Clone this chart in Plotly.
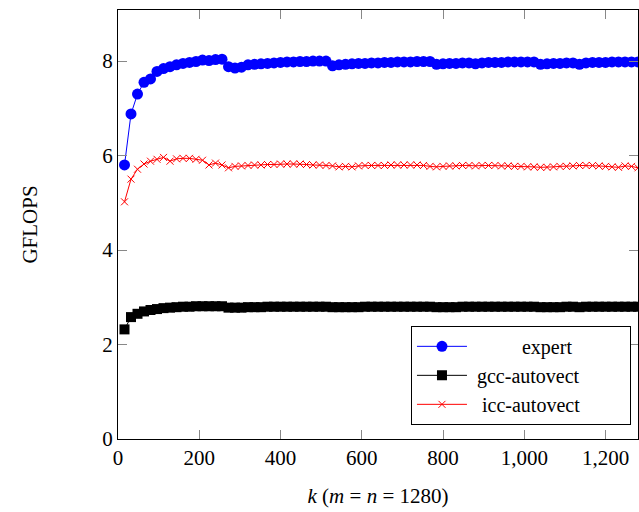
import plotly.graph_objects as go

k = list(range(16, 1281, 16))

expert = [5.80, 6.88, 7.30, 7.55, 7.62, 7.78, 7.84, 7.88, 7.92, 7.95,
          7.97, 7.99, 8.02, 8.01, 8.03, 8.04, 7.88, 7.85, 7.87, 7.92,
          7.93, 7.94, 7.95, 7.96, 7.97, 7.98, 7.98, 7.99, 7.99, 8.00,
          8.00, 8.00, 7.90, 7.92, 7.93, 7.94, 7.95, 7.95, 7.96, 7.96,
          7.97, 7.97, 7.98, 7.98, 7.98, 7.99, 7.99, 7.99, 7.93, 7.94,
          7.95, 7.95, 7.96, 7.96, 7.94, 7.96, 7.97, 7.97, 7.97, 7.98,
          7.98, 7.98, 7.98, 7.98, 7.93, 7.94, 7.95, 7.95, 7.96, 7.96,
          7.93, 7.96, 7.97, 7.97, 7.97, 7.98, 7.98, 7.98, 7.98, 7.98]

gcc = [2.32, 2.58, 2.65, 2.70, 2.73, 2.75, 2.77, 2.78, 2.79, 2.80,
       2.80, 2.81, 2.81, 2.81, 2.81, 2.81, 2.78, 2.78, 2.78, 2.79,
       2.79, 2.79, 2.80, 2.80, 2.80, 2.80, 2.80, 2.80, 2.80, 2.80,
       2.80, 2.80, 2.79, 2.79, 2.79, 2.79, 2.79, 2.80, 2.80, 2.80,
       2.80, 2.80, 2.80, 2.80, 2.80, 2.80, 2.80, 2.80, 2.79, 2.79,
       2.79, 2.79, 2.80, 2.80, 2.80, 2.80, 2.80, 2.80, 2.80, 2.80,
       2.80, 2.80, 2.80, 2.80, 2.79, 2.79, 2.79, 2.79, 2.80, 2.80,
       2.79, 2.80, 2.80, 2.80, 2.80, 2.80, 2.80, 2.80, 2.80, 2.80]

icc = [5.02, 5.50, 5.71, 5.82, 5.88, 5.92, 5.96, 5.88, 5.93, 5.94,
       5.94, 5.92, 5.90, 5.80, 5.84, 5.80, 5.74, 5.77, 5.78, 5.79,
       5.80, 5.80, 5.81, 5.81, 5.82, 5.82, 5.82, 5.82, 5.81, 5.80,
       5.80, 5.79, 5.78, 5.76, 5.77, 5.76, 5.78, 5.79, 5.79, 5.79,
       5.79, 5.80, 5.80, 5.80, 5.80, 5.80, 5.79, 5.77, 5.76, 5.77,
       5.78, 5.78, 5.79, 5.79, 5.78, 5.79, 5.79, 5.79, 5.78, 5.78,
       5.77, 5.77, 5.76, 5.76, 5.75, 5.75, 5.76, 5.77, 5.77, 5.78,
       5.79, 5.79, 5.79, 5.78, 5.77, 5.76, 5.75, 5.78, 5.77, 5.74]

x_ticks = [0, 200, 400, 600, 800, 1000, 1200]
y_ticks = [0, 2, 4, 6, 8]

FONT = "Liberation Serif"
SP = "&nbsp;"

fig = go.Figure()
fig.add_trace(go.Scatter(x=k, y=expert, name=SP * 10 + "expert", mode="lines+markers",
                         line=dict(color="#0000ff", width=1),
                         marker=dict(symbol="circle", size=11, color="#0000ff")))
fig.add_trace(go.Scatter(x=k, y=gcc, name=SP + "gcc-autovect" + SP * 9, mode="lines+markers",
                         line=dict(color="#000000", width=1),
                         marker=dict(symbol="square", size=10, color="#000000")))
fig.add_trace(go.Scatter(x=k, y=icc, name=SP + SP + "icc-autovect", mode="lines+markers",
                         line=dict(color="#ff0000", width=1),
                         marker=dict(symbol="x-thin", size=7,
                                     line=dict(color="#ff0000", width=1))))

axis_common = dict(showgrid=False, zeroline=False, showline=True, linecolor="black",
                   linewidth=1.3, mirror="allticks", ticks="inside", ticklen=9,
                   tickcolor="#888888", tickwidth=1,
                   tickfont=dict(family=FONT, size=21, color="black"))

fig.update_layout(
    width=639, height=512,
    margin=dict(l=118, r=1, t=10, b=73),
    paper_bgcolor="white", plot_bgcolor="white",
    font=dict(family=FONT, size=20, color="black"),
    xaxis=dict(range=[0, 1280], tickvals=x_ticks, tickformat=",",
               title=dict(text="<i>k</i> (<i>m</i> = <i>n</i> = 1280)", standoff=18,
                          font=dict(family=FONT, size=21)),
               **axis_common),
    yaxis=dict(range=[0, 9.08], tickvals=y_ticks,
               title=dict(text="GFLOPS", standoff=58, font=dict(family=FONT, size=21)),
               **axis_common),
    legend=dict(x=0.9865, y=0.033, xanchor="right", yanchor="bottom",
                bordercolor="black", borderwidth=1, bgcolor="white",
                font=dict(family=FONT, size=20), itemwidth=50),
    showlegend=True,
)

fig.write_html("out.html")
